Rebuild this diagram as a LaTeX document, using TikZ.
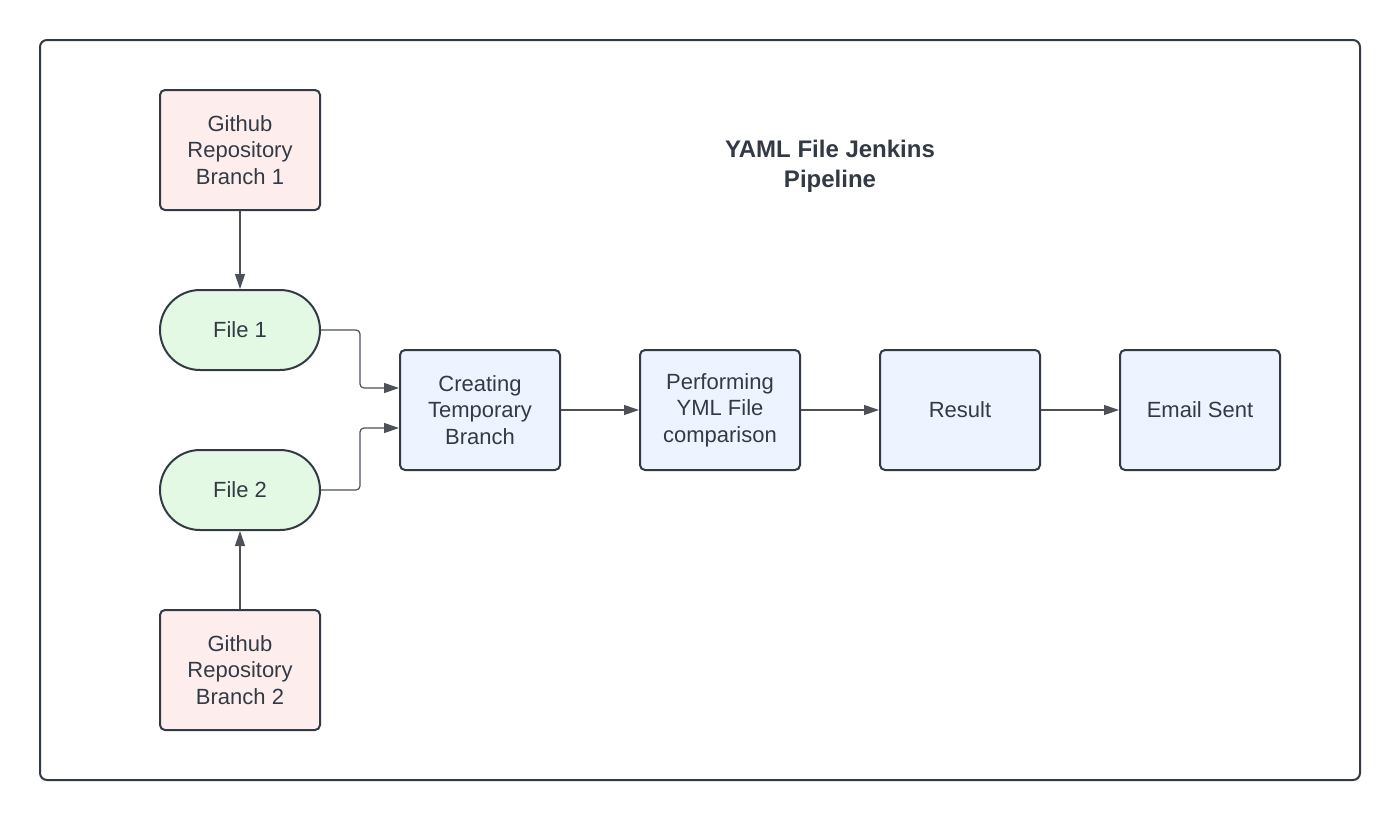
\documentclass[tikz,border=0pt]{standalone}
\usepackage{fontspec}
\setmainfont{Liberation Sans}
\usetikzlibrary{arrows.meta,shapes.misc}
\definecolor{ink}{HTML}{333A45}
\definecolor{wire}{HTML}{4B5059}
\definecolor{pinkfill}{HTML}{FDEEED}
\definecolor{greenfill}{HTML}{E3F9E3}
\definecolor{bluefill}{HTML}{EDF4FF}
\begin{document}
\begin{tikzpicture}[x=1pt,y=-1pt,
  box/.style={draw=ink,line width=2pt,rounded corners=5pt,minimum width=160pt,minimum height=120pt,inner sep=0pt,align=center,text=ink,font=\fontsize{22}{26.5}\selectfont},
  redbox/.style={box,fill=pinkfill},
  bluebox/.style={box,fill=bluefill},
  pill/.style={draw=ink,line width=2pt,rounded rectangle,minimum width=160pt,minimum height=80pt,inner sep=0pt,fill=greenfill,text=ink,font=\fontsize{22}{26.5}\selectfont},
  conn/.style={draw=wire,line width=1.2pt,-{Triangle[length=15pt,width=10pt]},rounded corners=4pt}]
\useasboundingbox (0,0) rectangle (1400,820);
\draw[ink,line width=2pt,rounded corners=7pt] (40,40) rectangle (1360,780);
\node[redbox] (gh1) at (240,150) {Github\\Repository\\Branch 1};
\node[pill] (f1) at (240,330) {File 1};
\node[pill] (f2) at (240,490) {File 2};
\node[redbox] (gh2) at (240,670) {Github\\Repository\\Branch 2};
\node[bluebox] (tmp) at (480,410) {Creating\\Temporary\\Branch};
\node[bluebox] (cmp) at (720,410) {Performing\\YML File\\comparison};
\node[bluebox] (res) at (960,410) {Result};
\node[bluebox] (mail) at (1200,410) {Email Sent};
\node[text=ink,font=\bfseries\fontsize{24}{30}\selectfont,align=center] (title) at (830,166) {YAML File Jenkins\\Pipeline};
\draw[conn] (gh1.south) -- (f1.north);
\draw[conn] (gh2.north) -- (f2.south);
\draw[conn] (f1.east) -- (360,330) -- (360,388) -- (tmp.west |- 0,388);
\draw[conn] (f2.east) -- (360,490) -- (360,428) -- (tmp.west |- 0,428);
\draw[conn] (tmp.east) -- (cmp.west);
\draw[conn] (cmp.east) -- (res.west);
\draw[conn] (res.east) -- (mail.west);
\end{tikzpicture}
\end{document}
